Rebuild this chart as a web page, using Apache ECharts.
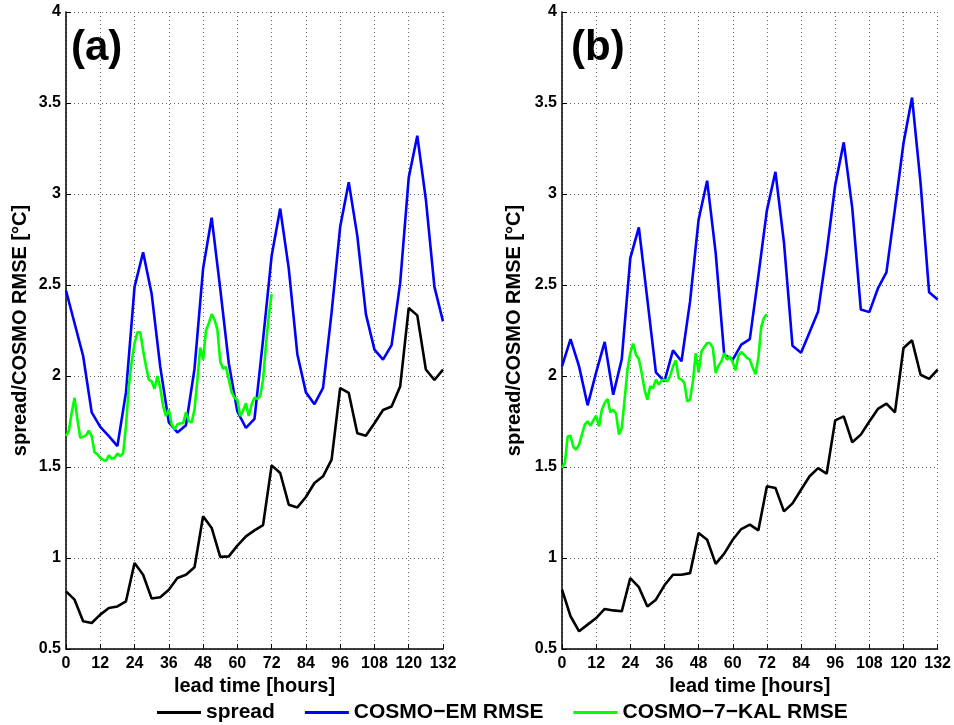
<!DOCTYPE html>
<html>
<head>
<meta charset="utf-8">
<script src="https://cdn.jsdelivr.net/npm/echarts@6/dist/echarts.min.js"></script>
<style>
  html, body { margin: 0; padding: 0; background: #fff; }
  #chart { width: 954px; height: 725px; }
</style>
</head>
<body>
<div id="chart"></div>
<script>
// Lead times (hours) for the 3-hourly ensemble output
const hours3 = [0, 3, 6, 9, 12, 15, 18, 21, 24, 27, 30, 33, 36, 39, 42, 45, 48, 51, 54, 57, 60, 63, 66,
  69, 72, 75, 78, 81, 84, 87, 90, 93, 96, 99, 102, 105, 108, 111, 114, 117, 120, 123, 126, 129, 132];
// Lead times (hours) for the hourly deterministic run
const hours1 = [0, 1, 2, 3, 4, 5, 6, 7, 8, 9, 10, 11, 12, 13, 14, 15, 16, 17, 18, 19, 20, 21, 22, 23, 24,
  25, 26, 27, 28, 29, 30, 31, 32, 33, 34, 35, 36, 37, 38, 39, 40, 41, 42, 43, 44, 45, 46, 47, 48,
  49, 50, 51, 52, 53, 54, 55, 56, 57, 58, 59, 60, 61, 62, 63, 64, 65, 66, 67, 68, 69, 70, 71, 72];

const xTicks = [0, 12, 24, 36, 48, 60, 72, 84, 96, 108, 120, 132];
const yTicks = [0.5, 1, 1.5, 2, 2.5, 3, 3.5, 4];
const seriesNames = ['spread', 'COSMO\u2212EM RMSE', 'COSMO\u22127\u2212KAL RMSE'];
const panelTags = ['(a)', '(b)'];

// Panel (a)
const spreadA = [0.817, 0.771, 0.652, 0.643, 0.689, 0.725, 0.734, 0.762, 0.973, 0.908, 0.777, 0.784,
  0.826, 0.89, 0.908, 0.949, 1.229, 1.165, 1.006, 1.009, 1.068, 1.119, 1.152, 1.181, 1.509, 1.467,
  1.293, 1.278, 1.335, 1.412, 1.449, 1.54, 1.934, 1.907, 1.685, 1.672, 1.74, 1.813, 1.832, 1.942,
  2.374, 2.333, 2.036, 1.978, 2.035];
const emA = [2.47, 2.29, 2.11, 1.80, 1.72, 1.67, 1.615, 1.91, 2.49, 2.68, 2.45, 2.05, 1.745, 1.69, 1.73,
  2.04, 2.59, 2.87, 2.48, 2.07, 1.805, 1.715, 1.765, 2.2, 2.66, 2.92, 2.59, 2.12, 1.91, 1.845, 1.935,
  2.35, 2.82, 3.065, 2.77, 2.34, 2.145, 2.09, 2.17, 2.51, 3.09, 3.32, 2.97, 2.49, 2.30];
const kalA = [1.67, 1.70, 1.80, 1.88, 1.76, 1.66, 1.667, 1.674, 1.70, 1.67, 1.58, 1.57, 1.55, 1.54, 1.533,
  1.564, 1.546, 1.55, 1.575, 1.56, 1.575, 1.725, 1.945, 2.08, 2.18, 2.24, 2.24, 2.14, 2.055, 1.98,
  1.97, 1.93, 2.0, 1.935, 1.835, 1.78, 1.817, 1.734, 1.707, 1.734, 1.74, 1.74, 1.80, 1.753, 1.744,
  1.817, 1.98, 2.156, 2.09, 2.25, 2.29, 2.34, 2.31, 2.256, 2.08, 2.04, 2.05, 1.98, 1.91, 1.88, 1.87,
  1.78, 1.81, 1.85, 1.78, 1.845, 1.88, 1.875, 1.89, 1.98, 2.17, 2.33, 2.45];

// Panel (b)
const spreadB = [0.826, 0.68, 0.597, 0.634, 0.67, 0.72, 0.712, 0.707, 0.89, 0.84, 0.734, 0.771, 0.85,
  0.908, 0.908, 0.917, 1.137, 1.10, 0.968, 1.024, 1.10, 1.159, 1.183, 1.152, 1.394, 1.385, 1.256,
  1.30, 1.375, 1.449, 1.494, 1.463, 1.756, 1.778, 1.636, 1.678, 1.75, 1.819, 1.848, 1.80, 2.154,
  2.196, 2.007, 1.984, 2.035];
const emB = [2.053, 2.203, 2.053, 1.839, 2.02, 2.187, 1.897, 2.093, 2.648, 2.817, 2.42, 2.02, 1.97,
  2.141, 2.081, 2.41, 2.859, 3.073, 2.676, 2.117, 2.09, 2.172, 2.203, 2.55, 2.91, 3.122, 2.733,
  2.166, 2.128, 2.24, 2.355, 2.68, 3.048, 3.284, 2.922, 2.366, 2.351, 2.481, 2.569, 2.92, 3.28,
  3.53, 3.06, 2.46, 2.42];
const kalB = [1.495, 1.522, 1.668, 1.672, 1.61, 1.595, 1.623, 1.678, 1.733, 1.751, 1.727, 1.756, 1.782,
  1.723, 1.815, 1.852, 1.874, 1.80, 1.815, 1.793, 1.678, 1.714, 1.87, 2.035, 2.126, 2.178, 2.117,
  2.093, 2.016, 1.925, 1.87, 1.943, 1.934, 1.98, 1.952, 1.976, 1.98, 1.97, 2.0, 2.053, 2.086, 1.989,
  1.98, 1.962, 1.861, 1.87, 1.97, 2.126, 2.02, 2.135, 2.159, 2.181, 2.181, 2.154, 2.016, 2.057, 2.08,
  2.126, 2.09, 2.108, 2.075, 2.031, 2.112, 2.132, 2.117, 2.10, 2.09, 2.045, 2.01, 2.10, 2.27, 2.32,
  2.34];

const pairs = (xs, ys) => xs.map((x, i) => [x, ys[i]]);

const FONT = '"Liberation Sans", Arial, Helvetica, sans-serif';
const colors = ['#000000', '#0000ff', '#00ff00'];

const panels = [
  { spread: spreadA, em: emA, kal: kalA, grid: { left: 66, right: 511, top: 12, bottom: 76 }, nameGap: 36 },
  { spread: spreadB, em: emB, kal: kalB, grid: { left: 562, right: 16, top: 12, bottom: 76 }, nameGap: 38 }
];

const gridLine = { show: true, lineStyle: { color: '#666', type: [1, 3], width: 1 } };
const axisLine = { show: true, onZero: false, lineStyle: { color: '#000', width: 1.5 } };

const option = {
  backgroundColor: '#fff',
  animation: false,
  grid: panels.map(p => Object.assign({ containLabel: false }, p.grid)),
  xAxis: panels.map((p, i) => ({
    type: 'value', gridIndex: i, min: xTicks[0], max: xTicks[xTicks.length - 1], interval: 12,
    name: 'lead time [hours]', nameLocation: 'middle', nameGap: 25,
    nameTextStyle: { fontFamily: FONT, fontWeight: 'bold', fontSize: 20, color: '#000' },
    axisLine: axisLine,
    axisTick: { show: true, inside: true, length: 5, lineStyle: { color: '#000', width: 1 } },
    axisLabel: { margin: 7, fontFamily: FONT, fontWeight: 'bold', fontSize: 16, color: '#000' },
    splitLine: gridLine
  })),
  yAxis: panels.map((p, i) => ({
    type: 'value', gridIndex: i, min: yTicks[0], max: yTicks[yTicks.length - 1], interval: 0.5,
    name: 'spread/COSMO RMSE [\u00B0C]', nameLocation: 'middle', nameGap: p.nameGap,
    nameTextStyle: { fontFamily: FONT, fontWeight: 'bold', fontSize: 20, color: '#000' },
    axisLine: axisLine,
    axisTick: { show: true, inside: true, length: 5, lineStyle: { color: '#000', width: 1 } },
    axisLabel: { margin: 5, fontFamily: FONT, fontWeight: 'bold', fontSize: 16, color: '#000' },
    splitLine: gridLine
  })),
  legend: {
    data: seriesNames, left: 152, top: 697, itemWidth: 44, itemHeight: 3, itemGap: 30,
    icon: 'rect',
    textStyle: { fontFamily: FONT, fontWeight: 'bold', fontSize: 21, color: '#000' }
  },
  series: [],
  graphic: panelTags.map((t, i) => ({
    type: 'text', left: i === 0 ? 71 : 571, top: 27,
    style: { text: t, font: 'bold 42px ' + FONT, fill: '#000' }
  }))
};

panels.forEach((p, i) => {
  const sets = [pairs(hours3, p.spread), pairs(hours3, p.em), pairs(hours1, p.kal)];
  sets.forEach((d, k) => {
    option.series.push({
      type: 'line', name: seriesNames[k], xAxisIndex: i, yAxisIndex: i, data: d,
      showSymbol: false, symbol: 'none', clip: true,
      lineStyle: { color: colors[k], width: 2.6 }, itemStyle: { color: colors[k] },
      z: k === 0 ? 3 : (k === 1 ? 2 : 4)
    });
  });
});

const chart = echarts.init(document.getElementById('chart'), null, { renderer: 'canvas' });
chart.setOption(option);
</script>
</body>
</html>
